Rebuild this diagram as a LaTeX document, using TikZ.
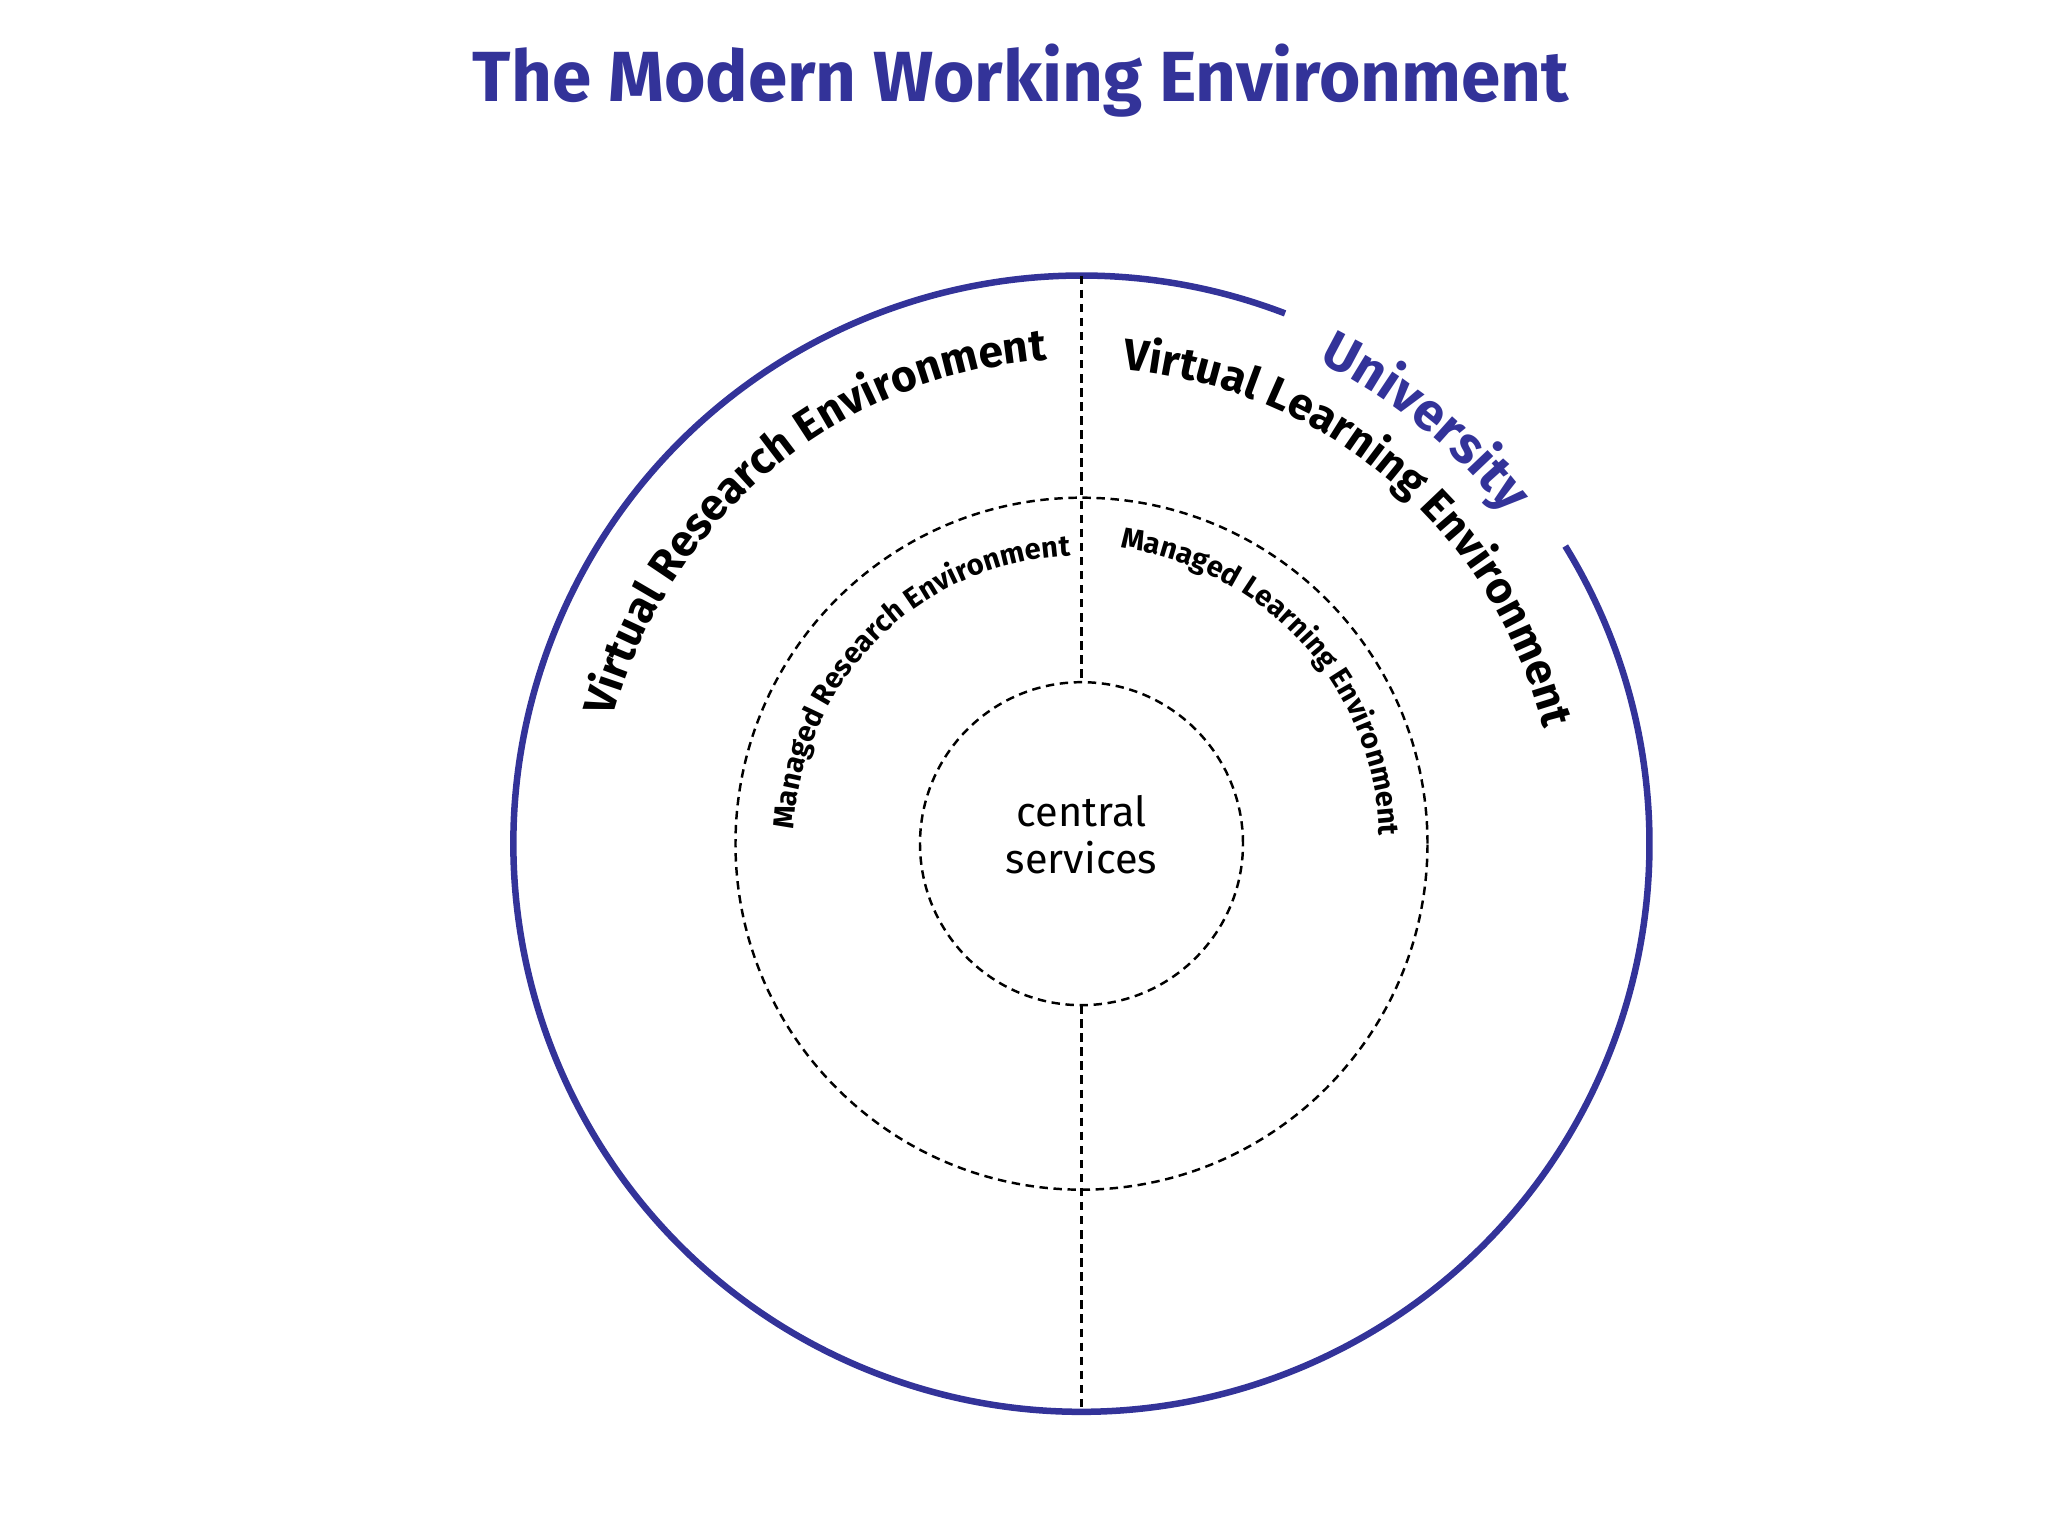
\documentclass[tikz,border=0pt]{standalone}
\usepackage{fontspec}
\setmainfont{Fira Sans}
\usetikzlibrary{decorations.text,calc}
\definecolor{ublue}{HTML}{333399}
\newcommand\myTitleFont{\bfseries\fontsize{20.2}{24}\selectfont}
\newcommand\myVEFont{\bfseries\fontsize{12.6}{15}\selectfont}
\newcommand\myUniFont{\bfseries\fontsize{15}{18}\selectfont}
\newcommand\myMEFont{\bfseries\fontsize{8.3}{10}\selectfont}
\newcommand\myCSFont{\fontsize{11.8}{13.1}\selectfont}
\begin{document}
\begin{tikzpicture}[
  ring/.style={draw=black, dash pattern=on 2.4pt off 1.6pt, line width=0.7pt},
  divider/.style={draw=black, dash pattern=on 2.4pt off 1.6pt, line width=0.7pt},
  rimline/.style={draw=ublue, line width=1.85pt},
]
\useasboundingbox (0,0) rectangle (20.48,15.36);
\coordinate (C) at (10.815,6.923);

% title
\node[font=\myTitleFont, text=ublue, anchor=base, inner sep=0pt] (title) at (10.21,14.34) {The Modern Working Environment};

% rings
\node[circle, ring, minimum size=6.92cm, inner sep=0pt, outer sep=0pt] (managed) at (C) {};
\node[circle, ring, minimum size=3.23cm, inner sep=0pt, outer sep=0pt] (central) at (C) {};
\node[align=center, font=\myCSFont, inner sep=0pt] (cstext) at (10.815,7.013) {central\\services};

% university rim with gap
\draw[rimline] ($(C)+(69:5.68)$) arc[start angle=69, end angle=391.6, radius=5.68cm];

% dividers
\coordinate (top) at ($(C)+(0,5.68)$);
\coordinate (bottom) at ($(C)+(0,-5.68)$);
\draw[divider] (top) -- (central.north);
\draw[divider] (central.south) -- (bottom);

% curved labels
\path[decorate, decoration={text along path, text align=center, text color=ublue,
  text={|\myUniFont|University}}]
  ($(C)+(110.8:5.37)$) arc[start angle=110.8, end angle=-9.2, radius=5.37cm];
\path[decorate, decoration={text along path, text align=center,
  text={|\myVEFont|Virtual Research Environment}}]
  ($(C)+(189.5:4.85)$) arc[start angle=189.5, end angle=69.5, radius=4.85cm];
\path[decorate, decoration={text along path, text align=center,
  text={|\myVEFont|Virtual Learning Environment}}]
  ($(C)+(109.5:4.76)$) arc[start angle=109.5, end angle=-10.5, radius=4.76cm];
\path[decorate, decoration={text along path, text align=center,
  text={|\myMEFont|Managed Research Environment}}]
  ($(C)+(194.7:2.88)$) arc[start angle=194.7, end angle=74.7, radius=2.88cm];
\path[decorate, decoration={text along path, text align=center,
  text={|\myMEFont|Managed Learning Environment}}]
  ($(C)+(102:2.98)$) arc[start angle=102, end angle=-18, radius=2.98cm];
\end{tikzpicture}
\end{document}
